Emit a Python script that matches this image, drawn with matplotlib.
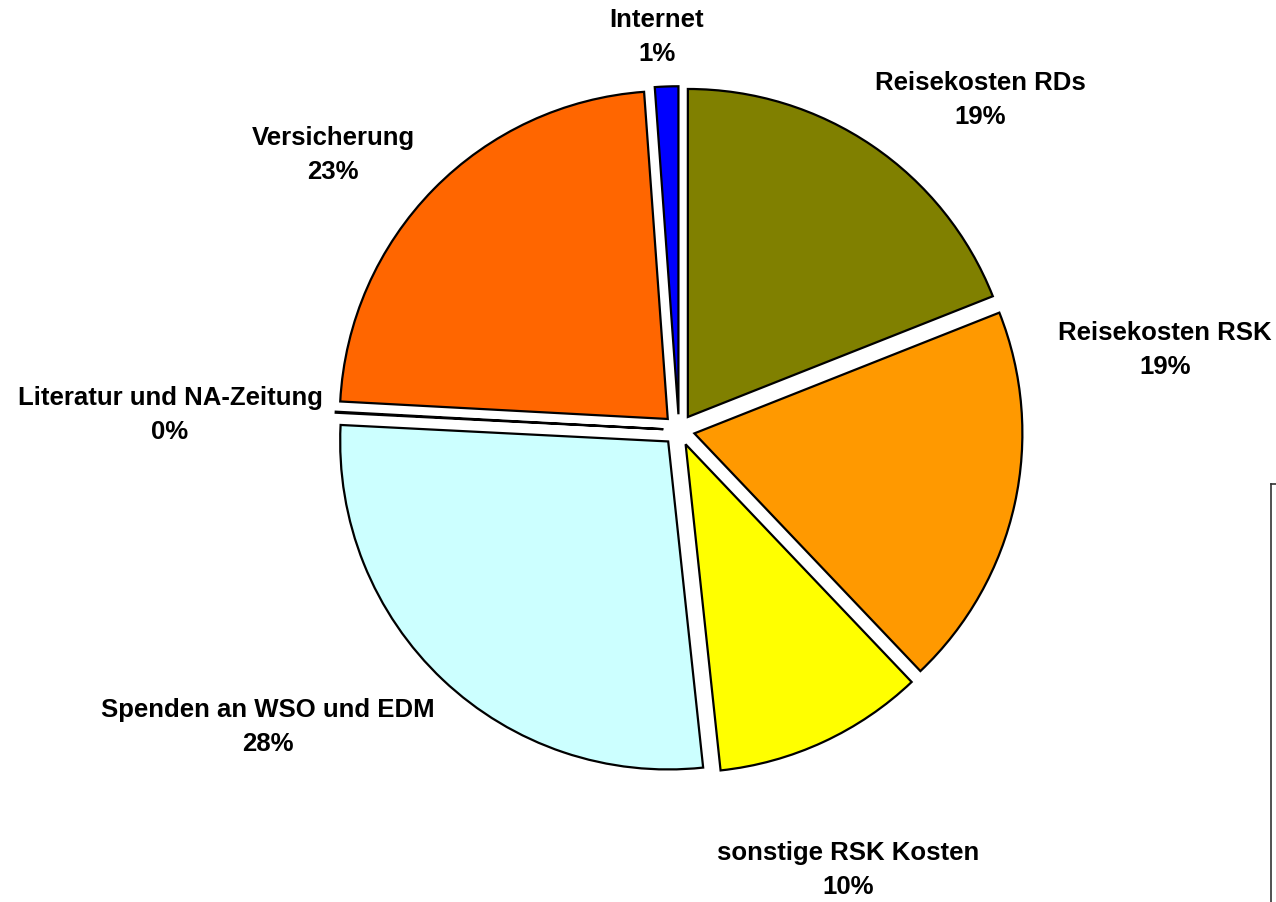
import matplotlib.pyplot as plt
from matplotlib.lines import Line2D

# data
categories = ["Reisekosten RDs", "Reisekosten RSK", "sonstige RSK Kosten",
              "Spenden an WSO und EDM", "Literatur und NA-Zeitung",
              "Versicherung", "Internet"]
shares = [19.0, 18.9, 10.4, 27.5, 0.05, 23.0, 1.15]
pct_labels = ["19%", "19%", "10%", "28%", "0%", "23%", "1%"]

colors = ["#808000", "#FF9900", "#FFFF00", "#CCFFFF", "#993366", "#FF6600", "#0000FF"]

# label centres in pixels (x from left, y from top)
label_px = [(980, 100), (1165, 350), (848, 870), (268, 727),
            (170, 415), (333, 155), (657, 37)]

W, H = 1276, 902
cx, cy, R = 679, 430, 328

plt.rcParams['font.family'] = ['Liberation Sans', 'DejaVu Sans']

fig = plt.figure(figsize=(W / 100, H / 100), dpi=100)
ax = fig.add_axes([0, 0, 1, 1])

ax.pie(shares, colors=colors, startangle=90, counterclock=False,
       explode=[0.048] * len(shares), radius=1.0,
       wedgeprops=dict(edgecolor='black', linewidth=1.6))

# pie() resets the limits, so set them afterwards
ax.set_xlim(-cx / R, (W - cx) / R)
ax.set_ylim(-(H - cy) / R, cy / R)
ax.set_aspect('equal')
ax.axis('off')

for name, pct, (px, py) in zip(categories, pct_labels, label_px):
    ax.text((px - cx) / R, (cy - py) / R, name + "\n" + pct,
            ha='center', va='center', fontsize=18.5, fontweight='bold',
            linespacing=1.5)

# cut-off legend frame on the right edge
fig.add_artist(Line2D([1271 / W, 1271 / W], [1 - 484 / H, 0],
                      transform=fig.transFigure, color='#333333', lw=1.2))
fig.add_artist(Line2D([1271 / W, 1], [1 - 484 / H, 1 - 484 / H],
                      transform=fig.transFigure, color='#333333', lw=1.2))

fig.savefig("out.png", dpi=100)
